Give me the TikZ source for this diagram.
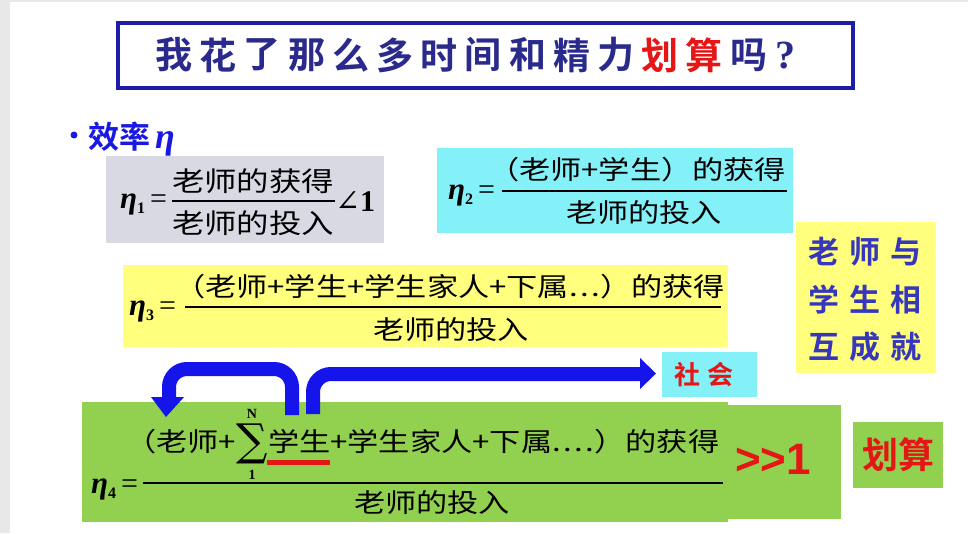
\documentclass[tikz,border=0pt]{standalone}
\usepackage{fontspec}
\setmainfont{Liberation Serif}
\newfontfamily\cjk{Noto Sans CJK SC}[FakeStretch=1.2]
\newfontfamily\cjkb{Noto Sans CJK SC Bold}
\newfontfamily\dejs{DejaVu Serif}
\newfontfamily\sansb{Liberation Sans Bold}
\definecolor{titleblue}{RGB}{42,42,140}
\definecolor{frameblue}{RGB}{30,30,165}
\definecolor{bulletblue}{RGB}{25,25,225}
\definecolor{violetblue}{RGB}{55,55,190}
\definecolor{redx}{RGB}{228,22,22}
\definecolor{grayfill}{RGB}{217,217,227}
\definecolor{cyanfill}{RGB}{132,240,248}
\definecolor{yellowfill}{RGB}{255,255,125}
\definecolor{greenfill}{RGB}{146,208,80}
\definecolor{arrowblue}{RGB}{20,20,235}
\definecolor{edgegray}{RGB}{232,232,232}
\newcommand\etalab[1]{{\fontsize{31}{31}\selectfont\bfseries\itshape η}\raisebox{-5pt}{\fontsize{16}{16}\selectfont\bfseries #1}\hspace{5pt}{\fontsize{30}{30}\selectfont =}}
\newcommand\sdots{.\hspace{2.5pt}.\hspace{2.5pt}.}
\tikzset{
  box/.style={inner sep=0pt, outer sep=0pt},
  txt/.style={inner sep=0pt, outer sep=0pt},
  titlech/.style={txt, font=\cjkb\fontsize{37}{37}\selectfont, text=titleblue},
  frac/.style={txt, font=\cjk\fontsize{26}{26}\selectfont},
  fracbig/.style={txt, font=\cjk\fontsize{27}{27}\selectfont},
  bar/.style={line width=1.8pt, black},
  lim/.style={txt, font=\bfseries\fontsize{14}{14}\selectfont},
  bigshaft/.style={draw=arrowblue, line width=14pt, rounded corners=18pt},
  bighead/.style={fill=arrowblue},
}
\begin{document}
\begin{tikzpicture}[x=1pt,y=-1pt]
\useasboundingbox (0,0) rectangle (968,533);
\fill[white] (0,0) rectangle (968,533);
\fill[edgegray] (0,0) rectangle (10,533);
\fill[edgegray] (0,0) rectangle (968,2);

% title
\node[box, draw=frameblue, line width=3.5pt, minimum width=735pt, minimum height=65pt] (titlebox) at (485.5,55.5) {};
\foreach \c [count=\i from 0] in {我,花,了,那,么,多,时,间,和,精,力}
  \node[titlech] (t\i) at (174+44.2*\i,55) {\c};
\node[titlech, text=redx] (t11) at (174+44.2*11,55) {划};
\node[titlech, text=redx] (t12) at (174+44.2*12,55) {算};
\node[titlech] (t13) at (174+44.2*13,55) {吗};
\node[titlech, font=\bfseries\fontsize{40}{40}\selectfont] (t14) at (785,56) {?};

% bullet
\node[circle, fill=bulletblue, inner sep=0pt, minimum size=7pt] (bul) at (74,135) {};
\node[txt, anchor=west, text=bulletblue, font=\cjkb\fontsize{31}{31}\selectfont] (eff) at (88,139)
  {效率\hspace{5pt}{\rmfamily\bfseries\itshape\fontsize{36}{36}\selectfont η}};

% background boxes
\node[box, fill=grayfill, minimum width=278pt, minimum height=87pt] (g1) at (245,199.5) {};
\node[box, fill=cyanfill, minimum width=356pt, minimum height=85pt] (c2) at (615,190.5) {};
\node[box, fill=yellowfill, minimum width=140pt, minimum height=151pt] (yr) at (866,297.5) {};
\node[box, fill=yellowfill, minimum width=605pt, minimum height=82pt] (y3) at (425.5,306) {};
\node[box, fill=cyanfill, minimum width=95pt, minimum height=45pt] (soc) at (709.5,374.5) {};
\node[box, fill=greenfill, minimum width=646pt, minimum height=120pt] (g4) at (405,462) {};
\node[box, fill=greenfill, minimum width=113pt, minimum height=114pt] (g4b) at (784.5,462) {};
\node[box, fill=greenfill, minimum width=90pt, minimum height=66pt] (hs) at (898,455) {};

% eta 1
\node[txt, anchor=east] (e1) at (167,204) {\etalab{1}};
\node[fracbig] (n1) at (253,181) {老师的获得};
\node[fracbig] (d1) at (253,223) {老师的投入};
\draw[bar] (172,201) -- (335,201);
\node[txt, anchor=west, font=\fontsize{30}{30}\selectfont] (lt1) at (335,202) {{\dejs ∠}\textbf{1}};

% eta 2
\node[txt, anchor=east] (e2) at (495,196) {\etalab{2}};
\node[frac, anchor=west] (n2) at (502,170) {\hspace{-14pt}（老师+学生）的获得};
\node[frac] (d2) at (644,213) {老师的投入};
\draw[bar] (502,191) -- (787,191);

% eta 3
\node[txt, anchor=east] (e3) at (176,311) {\etalab{3}};
\node[frac, anchor=west] (n3) at (188,287) {\hspace{-14pt}（老师+学生+学生家人+下属\sdots）的获得};
\node[frac] (d3) at (451,330) {老师的投入};
\draw[bar] (185,307) -- (721,307);

% eta 4
\node[txt, anchor=east] (e4) at (138,489) {\etalab{4}};
\node[frac, anchor=east] (n4a) at (236,442) {（老师+};
\node[txt, font=\dejs\fontsize{44}{44}\selectfont] (sig) at (252,444) {∑};
\node[lim] (limN) at (252,414) {N};
\node[lim] (lim1) at (252,475) {1};
\node[frac, anchor=west] (n4b) at (268,442) {学生+学生家人+下属\sdots\hspace{2.5pt}.）的获得};
\fill[redx] (267,460) rectangle (330,465);
\node[frac] (d4) at (432,503) {老师的投入};
\draw[bar] (143,483) -- (723,483);

% >>1 and labels
\node[txt, text=redx, font=\sansb\fontsize{44}{44}\selectfont] (gg) at (773,459) {>>1};
\node[txt, text=redx, font=\cjkb\fontsize{36}{36}\selectfont] (hst) at (hs) {划算};
\node[txt, text=redx, font=\cjkb\fontsize{26}{26}\selectfont] (soct) at (704,375) {社\hspace{8pt}会};
\node[txt, text=violetblue, font=\cjkb\fontsize{31}{31}\selectfont] (r1) at (865,252) {老\hspace{10pt}师\hspace{10pt}与};
\node[txt, text=violetblue, font=\cjkb\fontsize{31}{31}\selectfont] (r2) at (865,300) {学\hspace{10pt}生\hspace{10pt}相};
\node[txt, text=violetblue, font=\cjkb\fontsize{31}{31}\selectfont] (r3) at (865,347) {互\hspace{10pt}成\hspace{10pt}就};

% arrows
\coordinate (la0) at (292,415);
\coordinate (la1) at (292,369);
\coordinate (la2) at (169,369);
\coordinate (la3) at (169,398);
\coordinate (latip) at (166,417);
\draw[bigshaft] (la0) -- (la1) -- (la2) -- (la3);
\fill[bighead] (151,397) -- (184,397) -- (latip) -- cycle;

\coordinate (ra0) at (313,414);
\coordinate (ra1) at (313,374);
\coordinate (ra2) at (641,374);
\coordinate (ratip) at (656,373.5);
\draw[bigshaft] (ra0) -- (ra1) -- (ra2);
\fill[bighead] (640,358) -- (640,389) -- (ratip) -- cycle;
\end{tikzpicture}
\end{document}
